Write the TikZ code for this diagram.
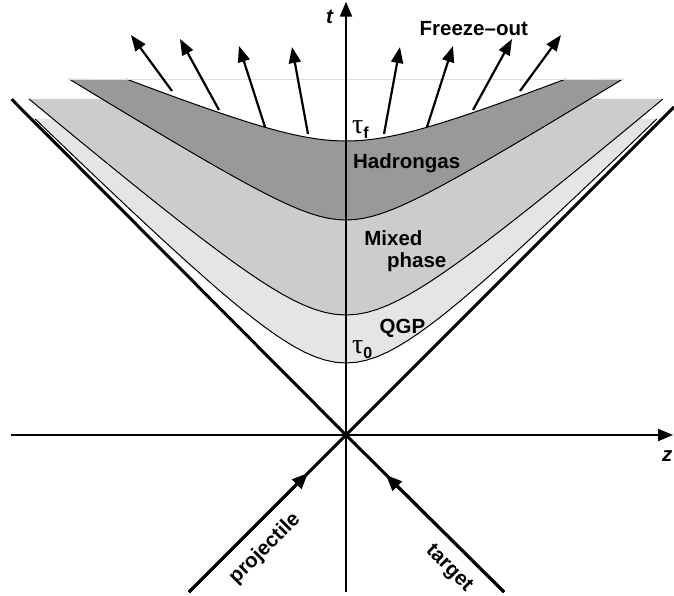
\documentclass[tikz,border=0pt]{standalone}
\usepackage{fontspec}
\setmainfont{Liberation Sans}
\newfontfamily\greekfont{Liberation Serif}
\usetikzlibrary{arrows.meta}
\definecolor{qgpgray}{gray}{0.9}
\definecolor{mixgray}{gray}{0.8}
\definecolor{hadgray}{gray}{0.6}
\newcommand{\taufont}{\greekfont\fontsize{14}{14}\selectfont}
\newcommand{\tausub}{\normalfont\bfseries\fontsize{8}{8}\selectfont}
\tikzset{
  declare function={band(\zv,\tc,\tw,\tk)=\tc-\tw+100*veclen(\tw/100,\tk*\zv/100);},
  cone/.style={line width=1.5pt},
  axis/.style={line width=1pt,-{Triangle[length=7.5pt,width=6pt]}},
  flow/.style={line width=1.1pt,-{Triangle[length=8pt,width=6pt]}},
  curve/.style={line width=0.5pt},
  lbl/.style={font=\bfseries\fontsize{10.25}{11}\selectfont,inner sep=0pt},
}

\begin{document}
\begin{tikzpicture}[x=0.5pt,y=0.5pt]
\useasboundingbox (-346,-160) rectangle (328,435);
% bands between the proper time curves
\fill[qgpgray] plot[domain=-310.8:310.8,samples=61] (\x,{band(\x,72,72,0.99)})
  -- plot[domain=292.8:-292.8,samples=61] (\x,{band(\x,120,60,0.85)}) -- cycle;
\fill[mixgray] plot[domain=-316.9:316.9,samples=61] (\x,{band(\x,120,60,0.85)})
  -- plot[domain=243.9:-243.9,samples=61] (\x,{band(\x,215,34,0.62)}) -- cycle;
\fill[hadgray] plot[domain=-276.9:276.9,samples=61] (\x,{band(\x,215,34,0.62)})
  -- plot[domain=219.7:-219.7,samples=61] (\x,{band(\x,294,31.3,0.4)}) -- cycle;
\draw[curve] plot[domain=-310.8:310.8,samples=61] (\x,{band(\x,72,72,0.99)});
\draw[curve] plot[domain=-316.9:316.9,samples=61] (\x,{band(\x,120,60,0.85)});
\draw[curve] plot[domain=-276.9:276.9,samples=61] (\x,{band(\x,215,34,0.62)});
\draw[curve] plot[domain=-219.7:219.7,samples=61] (\x,{band(\x,294,31.3,0.4)});
\draw[black!13,line width=0.4pt] (-276.9,356) -- (276.9,356);
% freeze-out arrows
\foreach \n/\xa/\ya/\xb/\yb in {1/-174/344/-215/400, 2/-127/325/-166/396,
    3/-81/308/-107/389, 4/-38/301/-54/388, 5/38/301/54/388,
    6/81/308/107/389, 7/127/325/166/396, 8/174/344/215/400}{
  \coordinate (s\n) at (\xa,\ya);
  \coordinate (e\n) at (\xb,\yb);
  \draw[flow] (s\n) -- (e\n);
}
% axes
\coordinate (o) at (0,0);
\coordinate (zl) at (-335.3,0);
\coordinate (zr) at (327,0);
\coordinate (tb) at (0,-156.7);
\coordinate (tt) at (0,433.3);
\draw[axis] (zl) -- (zr);
\draw[axis] (tb) -- (tt);
% light cone
\coordinate (ul) at (-334.3,335.7);
\coordinate (lr) at (158,-157);
\coordinate (ll) at (-157,-157);
\coordinate (ur) at (328,328);
\coordinate (pm) at (-38,-38);
\coordinate (qm) at (40,-40);
\draw[cone] (ll) -- node[lbl,pos=0.38,sloped,below=6pt] {projectile} (o) -- (ur);
\draw[cone] (ul) -- (o) -- node[lbl,pos=0.75,sloped,below=6pt] {target} (lr);
\draw[cone,-{Triangle[length=8pt,width=6.5pt]}] (ll) -- (pm);
\draw[cone,-{Triangle[length=8pt,width=6.5pt]}] (lr) -- (qm);
% labels
\node[lbl,anchor=base east,font=\bfseries\itshape\fontsize{10.25}{11}\selectfont] (tlab) at (-12.7,411.7) {t};
\node[lbl,anchor=base west,font=\bfseries\itshape\fontsize{10.25}{11}\selectfont] (zlab) at (315.7,-26.7) {z};
\node[lbl,anchor=base west] (freeze) at (73.3,399.3) {Freeze--out};
\node[lbl,anchor=base west] (hadron) at (6.7,266.7) {Hadrongas};
\node[lbl,anchor=base west] (mixed) at (18,189) {Mixed};
\node[lbl,anchor=base west] (phase) at (40.7,167.7) {phase};
\node[lbl,anchor=base west] (qgp) at (33.3,101.7) {QGP};
\node[inner sep=0pt,anchor=base west] (tauf) at (5.7,301.7) {\taufont τ\raisebox{-2.5pt}{\tausub f}};
\node[inner sep=0pt,anchor=base west] (tau0) at (5.7,81.7) {\taufont τ\raisebox{-2.5pt}{\tausub 0}};
\end{tikzpicture}
\end{document}
